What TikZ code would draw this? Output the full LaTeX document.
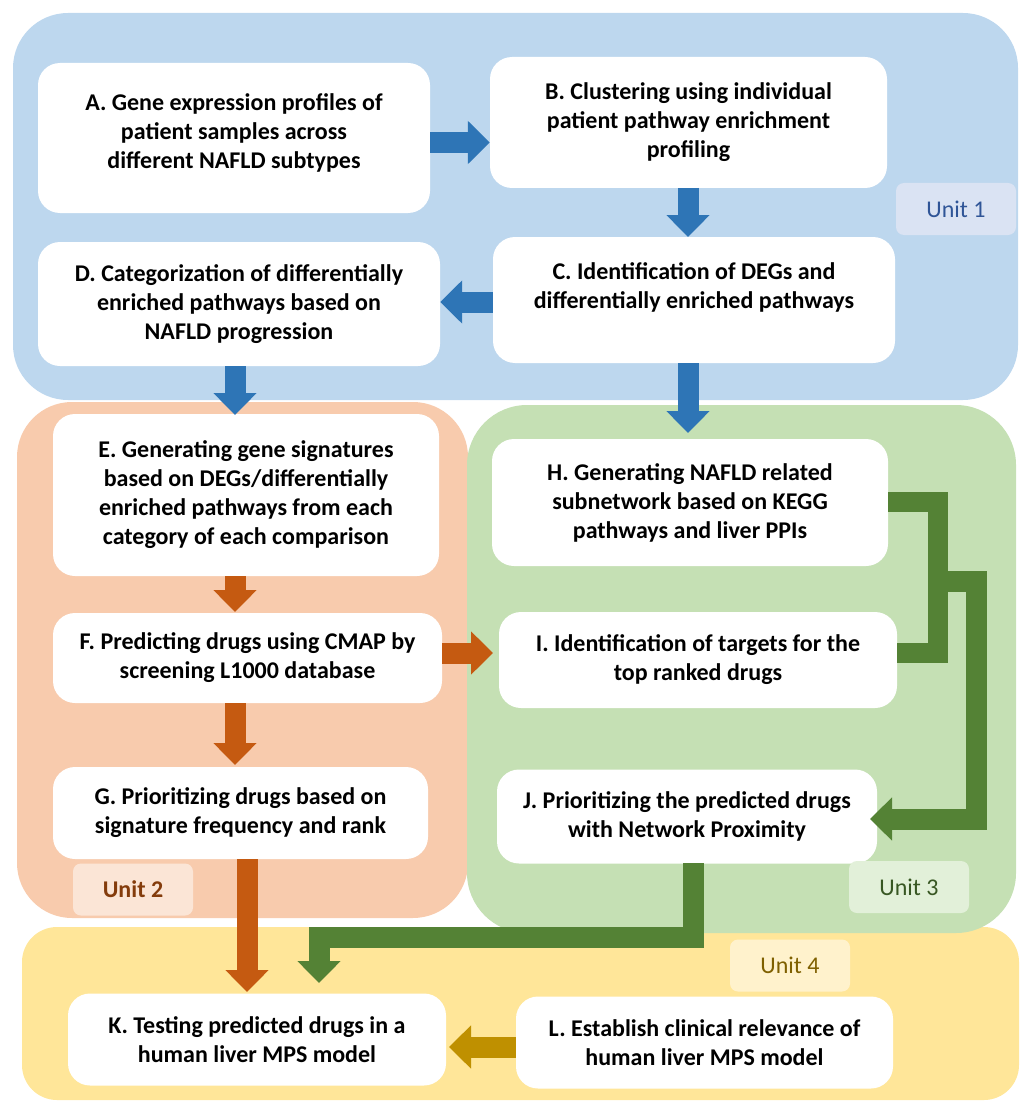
\documentclass[tikz,border=0pt]{standalone}
\usepackage{fontspec}
\setmainfont{Carlito}
\usetikzlibrary{arrows.meta}
\definecolor{bluebg}{HTML}{BDD7EE}
\definecolor{arrblue}{HTML}{2E75B6}
\definecolor{u1fill}{HTML}{DAE3F3}
\definecolor{u1text}{HTML}{2F5597}
\definecolor{orangebg}{HTML}{F8CBAD}
\definecolor{arrorange}{HTML}{C55A11}
\definecolor{u2fill}{HTML}{FBE5D6}
\definecolor{u2text}{HTML}{843C0C}
\definecolor{greenbg}{HTML}{C5E0B4}
\definecolor{arrgreen}{HTML}{548235}
\definecolor{u3fill}{HTML}{E2F0D9}
\definecolor{u3text}{HTML}{385723}
\definecolor{yellowbg}{HTML}{FFE699}
\definecolor{arrgold}{HTML}{BF9000}
\definecolor{u4fill}{HTML}{FFF2CC}
\definecolor{u4text}{HTML}{7F6000}
\tikzset{
  box/.style={fill=white, rounded corners=22pt, align=center, inner sep=0pt,
    font=\fontsize{24}{29}\selectfont\bfseries},
  unitlab/.style={rounded corners=8pt, minimum width=120pt, minimum height=52pt,
    inner sep=0pt, font=\fontsize{24}{29}\selectfont},
  blockarrow/.style={line width=21pt, -{Triangle[width=42pt,length=22pt]}},
  barrow/.style={blockarrow, draw=arrblue},
  oarrow/.style={blockarrow, draw=arrorange},
  garrow/.style={blockarrow, draw=arrgreen, line join=miter},
  yarrow/.style={blockarrow, draw=arrgold},
  gline/.style={draw=arrgreen, line width=20pt, line join=miter}
}
\begin{document}
\begin{tikzpicture}[x=1pt,y=-1pt]
\useasboundingbox (0,0) rectangle (1021,1102);
% regions
\fill[bluebg, rounded corners=55pt] (13,13) rectangle (1018,400);
\fill[yellowbg, rounded corners=35pt] (22,927) rectangle (1019,1100);
\fill[orangebg, rounded corners=55pt] (17,402) rectangle (468,918);
\fill[greenbg, rounded corners=60pt] (467,405) rectangle (1016,933);

% boxes
\node[box, minimum width=392pt, minimum height=150pt] (A) at (234,138)
  {A. Gene expression profiles of\\patient samples across\\different NAFLD subtypes\\[-15pt]\mbox{}};
\node[box, minimum width=397pt, minimum height=131pt] (B) at (688.5,122.5)
  {B. Clustering using individual\\patient pathway enrichment\\profiling};
\node[box, minimum width=402pt, minimum height=126pt] (C) at (694,300)
  {C. Identification of DEGs and\\differentially enriched pathways\\\mbox{}};
\node[box, minimum width=402pt, minimum height=124pt] (D) at (239,304)
  {D. Categorization of differentially\\enriched pathways based on\\NAFLD progression};
\node[box, minimum width=386pt, minimum height=162pt] (E) at (246,495)
  {E. Generating gene signatures\\based on DEGs/differentially\\enriched pathways from each\\category of each comparison};
\node[box, minimum width=389pt, minimum height=90pt] (F) at (247.5,658)
  {F. Predicting drugs using CMAP by\\screening L1000 database};
\node[box, minimum width=375pt, minimum height=92pt] (G) at (240.5,813)
  {G. Prioritizing drugs based on\\signature frequency and rank};
\node[box, minimum width=396pt, minimum height=127pt] (H) at (690,502.5)
  {H. Generating NAFLD related\\subnetwork based on KEGG\\pathways and liver PPIs};
\node[box, minimum width=398pt, minimum height=96pt] (I) at (698,660)
  {I. Identification of targets for the\\top ranked drugs};
\node[box, minimum width=380pt, minimum height=94pt] (J) at (687,816.5)
  {J. Prioritizing the predicted drugs\\with Network Proximity};
\node[box, minimum width=378pt, minimum height=92pt] (K) at (257,1039.5)
  {K. Testing predicted drugs in a\\human liver MPS model};
\node[box, minimum width=377pt, minimum height=92pt] (L) at (704.5,1042.5)
  {L. Establish clinical relevance of\\human liver MPS model};

% unit labels
\node[unitlab, fill=u1fill, text=u1text] (U1) at (956,209) {Unit 1};
\node[unitlab, fill=u2fill, text=u2text, font=\fontsize{24}{29}\selectfont\bfseries] (U2) at (133,889.5) {Unit 2};
\node[unitlab, fill=u3fill, text=u3text] (U3) at (909,887) {Unit 3};
\node[unitlab, fill=u4fill, text=u4text] (U4) at (790,965.5) {Unit 4};

% blue arrows
\draw[barrow] (A.east |- 0,142.5) -- (B.west |- 0,142.5);
\draw[barrow] (688,188) -- (688,237);
\draw[barrow] (C.west |- 0,302) -- (D.east |- 0,302);
\draw[barrow] (235,366) -- (235,415);
\draw[barrow] (688,363) -- (688,433);

% orange arrows
\draw[oarrow] (235,576) -- (235,612);
\draw[oarrow] (235,703) -- (235,765);
\draw[oarrow] (F.east |- 0,653) -- (493,653);
\draw[oarrow] (247,859) -- (247,992);

% green connectors
\draw[gline] (H.east |- 0,502) -- (938,502) -- (938,653) -- (I.east |- 0,653);
\coordinate (Jtip) at (870,819);
\draw[garrow] (938,581) -- (976,581) -- (976,819) -- (Jtip);
\draw[garrow] (693,863) -- (693,937) -- (319,937) -- (319,983);

% gold arrow
\draw[yarrow] (L.west |- 0,1047) -- (449,1047);
\end{tikzpicture}
\end{document}
